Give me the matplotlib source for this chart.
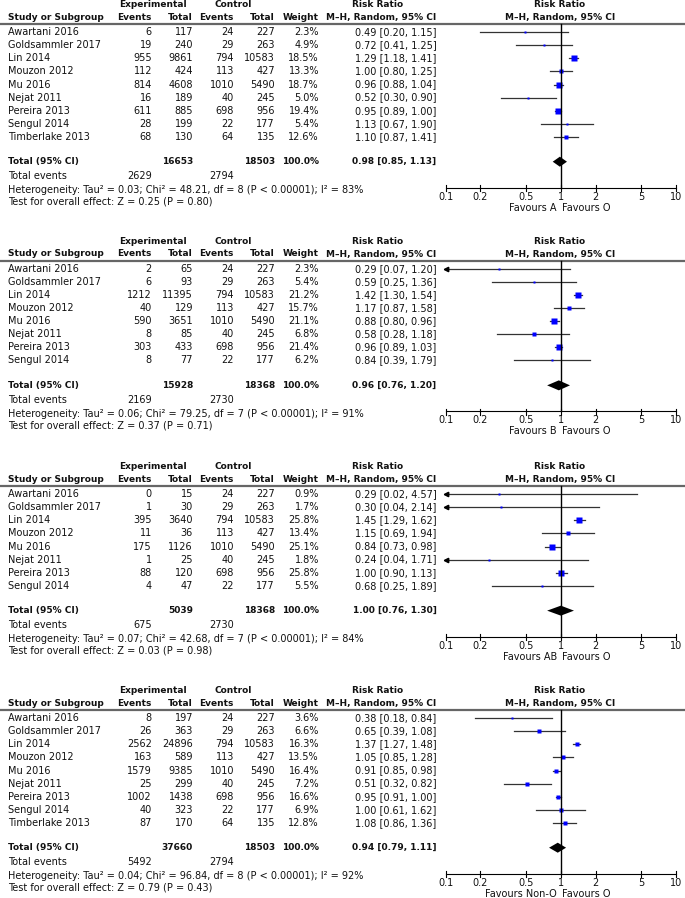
import numpy as np
import matplotlib
matplotlib.use("Agg")
import matplotlib.pyplot as plt

plt.rcParams['font.family'] = ['DejaVu Sans']
FS = 7.0
FSB = 6.5

# ---- data ----
studies = ["Awartani 2016", "Goldsammler 2017", "Lin 2014", "Mouzon 2012", "Mu 2016",
           "Nejat 2011", "Pereira 2013", "Sengul 2014", "Timberlake 2013"]
ctrl_events = [24, 29, 794, 113, 1010, 40, 698, 22, 64]
ctrl_total = [227, 263, 10583, 427, 5490, 245, 956, 177, 135]

# blood group A vs O
exp_ev_a = [6, 19, 955, 112, 814, 16, 611, 28, 68]
exp_tot_a = [117, 240, 9861, 424, 4608, 189, 885, 199, 130]
weight_a = [2.3, 4.9, 18.5, 13.3, 18.7, 5.0, 19.4, 5.4, 12.6]
rr_a = [0.49, 0.72, 1.29, 1.00, 0.96, 0.52, 0.95, 1.13, 1.10]
lo_a = [0.20, 0.41, 1.18, 0.80, 0.88, 0.30, 0.89, 0.67, 0.87]
hi_a = [1.15, 1.25, 1.41, 1.25, 1.04, 0.90, 1.00, 1.90, 1.41]

# B vs O
exp_ev_b = [2, 6, 1212, 40, 590, 8, 303, 8]
exp_tot_b = [65, 93, 11395, 129, 3651, 85, 433, 77]
weight_b = [2.3, 5.4, 21.2, 15.7, 21.1, 6.8, 21.4, 6.2]
rr_b = [0.29, 0.59, 1.42, 1.17, 0.88, 0.58, 0.96, 0.84]
lo_b = [0.07, 0.25, 1.30, 0.87, 0.80, 0.28, 0.89, 0.39]
hi_b = [1.20, 1.36, 1.54, 1.58, 0.96, 1.18, 1.03, 1.79]

# AB vs O
exp_ev_ab = [0, 1, 395, 11, 175, 1, 88, 4]
exp_tot_ab = [15, 30, 3640, 36, 1126, 25, 120, 47]
weight_ab = [0.9, 1.7, 25.8, 13.4, 25.1, 1.8, 25.8, 5.5]
rr_ab = [0.29, 0.30, 1.45, 1.15, 0.84, 0.24, 1.00, 0.68]
lo_ab = [0.02, 0.04, 1.29, 0.69, 0.73, 0.04, 0.90, 0.25]
hi_ab = [4.57, 2.14, 1.62, 1.94, 0.98, 1.71, 1.13, 1.89]

# Non-O vs O
exp_ev_n = [8, 26, 2562, 163, 1579, 25, 1002, 40, 87]
exp_tot_n = [197, 363, 24896, 589, 9385, 299, 1438, 323, 170]
weight_n = [3.6, 6.6, 16.3, 13.5, 16.4, 7.2, 16.6, 6.9, 12.8]
rr_n = [0.38, 0.65, 1.37, 1.05, 0.91, 0.51, 0.95, 1.00, 1.08]
lo_n = [0.18, 0.39, 1.27, 0.85, 0.85, 0.32, 0.91, 0.61, 0.86]
hi_n = [0.84, 1.08, 1.48, 1.28, 0.98, 0.82, 1.00, 1.62, 1.36]

favours = ["A", "B", "AB", "Non-O"]
sum_exp_total = [16653, 15928, 5039, 37660]
sum_ctrl_total = [18503, 18368, 18368, 18503]
sum_rr = [0.98, 0.96, 1.00, 0.94]
sum_lo = [0.85, 0.76, 0.76, 0.79]
sum_hi = [1.13, 1.20, 1.30, 1.11]
sum_exp_events = [2629, 2169, 675, 5492]
sum_ctrl_events = [2794, 2730, 2730, 2794]
tau2 = [0.03, 0.06, 0.07, 0.04]
chi2 = [48.21, 79.25, 42.68, 96.84]
dfs = [8, 7, 7, 8]
i2 = [83, 91, 84, 92]
zval = [0.25, 0.37, 0.03, 0.79]
pval = [0.80, 0.71, 0.98, 0.43]

ticks = [0.1, 0.2, 0.5, 1, 2, 5, 10]
tick_labels = ["0.1", "0.2", "0.5", "1", "2", "5", "10"]

panels = [
    (exp_ev_a, exp_tot_a, weight_a, rr_a, lo_a, hi_a),
    (exp_ev_b, exp_tot_b, weight_b, rr_b, lo_b, hi_b),
    (exp_ev_ab, exp_tot_ab, weight_ab, rr_ab, lo_ab, hi_ab),
    (exp_ev_n, exp_tot_n, weight_n, rr_n, lo_n, hi_n),
]

# ---- layout (pixels) ----
W, H = 685, 898
first_row = [32.3, 269.0, 494.3, 718.3]
ROW = 13.05
fig = plt.figure(figsize=(W / 100, H / 100), dpi=100)
tx = fig.add_axes([0, 0, 1, 1])
tx.set_xlim(0, W)
tx.set_ylim(H, 0)
tx.axis('off')

fx0, fx1 = 445.7, 676.0
fa = fig.add_axes([fx0 / W, 0, (fx1 - fx0) / W, 1])
fa.set_xscale('log')
fa.set_xlim(0.1, 10)
fa.set_ylim(H, 0)
fa.axis('off')

col_x = [152, 193, 234, 275, 319, 436.5]
BLUE = '#0000ff'


def txt(x, y, s, ha='left', bold=False):
    tx.text(x, y, s, ha=ha, va='center', fontsize=FSB if bold else FS,
            fontweight='bold' if bold else 'normal', color='#111111')


for p, (ev, tot, wt, rr, lo, hi) in enumerate(panels):
    r0 = first_row[p]
    n = len(ev)
    # headers
    h1, h2 = r0 - 27.7, r0 - 15
    txt(152.5, h1, "Experimental", 'center', True)
    txt(233, h1, "Control", 'center', True)
    txt(378, h1, "Risk Ratio", 'center', True)
    txt(560, h1, "Risk Ratio", 'center', True)
    txt(8, h2, "Study or Subgroup", bold=True)
    for x, s in zip(col_x, ["Events", "Total", "Events", "Total", "Weight",
                            "M\u2013H, Random, 95% CI"]):
        txt(x, h2, s, 'right', True)
    txt(560, h2, "M\u2013H, Random, 95% CI", 'center', True)
    tx.plot([0, W], [r0 - 8.5] * 2, color='#666666', lw=1.6, solid_capstyle='butt')

    for i in range(n):
        y = r0 + i * ROW
        txt(8, y, studies[i])
        vals = [str(ev[i]), str(tot[i]), str(ctrl_events[i]), str(ctrl_total[i]),
                f"{wt[i]:.1f}%", f"{rr[i]:.2f} [{lo[i]:.2f}, {hi[i]:.2f}]"]
        for x, s in zip(col_x, vals):
            txt(x, y, s, 'right')
        fa.plot([max(lo[i], 0.1), hi[i]], [y, y], color='#333333', lw=0.9,
                clip_on=False)
        if lo[i] < 0.1:
            fa.plot(0.1, y, marker='<', ms=3.2, color='k', mec='k', clip_on=False)
        side = max(1.2 * np.sqrt(wt[i]), 2.0)
        fa.plot(rr[i], y, 's', ms=side * 0.72, color=BLUE, mec='none', clip_on=False)

    yt = r0 + (n - 1) * ROW + 25
    txt(8, yt, "Total (95% CI)", bold=True)
    txt(col_x[1], yt, str(sum_exp_total[p]), 'right', True)
    txt(col_x[3], yt, str(sum_ctrl_total[p]), 'right', True)
    txt(col_x[4], yt, "100.0%", 'right', True)
    txt(col_x[5], yt, f"{sum_rr[p]:.2f} [{sum_lo[p]:.2f}, {sum_hi[p]:.2f}]", 'right', True)
    txt(8, yt + 14.5, "Total events")
    txt(col_x[0], yt + 14.5, str(sum_exp_events[p]), 'right')
    txt(col_x[2], yt + 14.5, str(sum_ctrl_events[p]), 'right')
    txt(8, yt + 28.5, f"Heterogeneity: Tau\u00b2 = {tau2[p]:.2f}; Chi\u00b2 = {chi2[p]:.2f}, "
        f"df = {dfs[p]} (P < 0.00001); I\u00b2 = {i2[p]}%")
    txt(8, yt + 40.3, f"Test for overall effect: Z = {zval[p]:.2f} (P = {pval[p]:.2f})")

    # diamond
    fa.fill([sum_lo[p], sum_rr[p], sum_hi[p], sum_rr[p]],
            [yt, yt - 5, yt, yt + 5], color='k', lw=0)

    # axis
    ya = yt + 26
    fa.plot([1, 1], [r0 - 8.5, ya], color='k', lw=1.0)
    fa.plot([0.1, 10], [ya, ya], color='k', lw=0.8, clip_on=False)
    for t, lab in zip(ticks, tick_labels):
        fa.plot([t, t], [ya - 2.8, ya + 3.6], color='k', lw=0.8, clip_on=False)
        fa.text(t, ya + 9, lab, ha='center', va='center', fontsize=FS, color='#111111')
    txt(557, yt + 46, f"Favours {favours[p]}", 'right')
    txt(562, yt + 46, "Favours O", 'left')

fig.savefig("out.png", dpi=100)
